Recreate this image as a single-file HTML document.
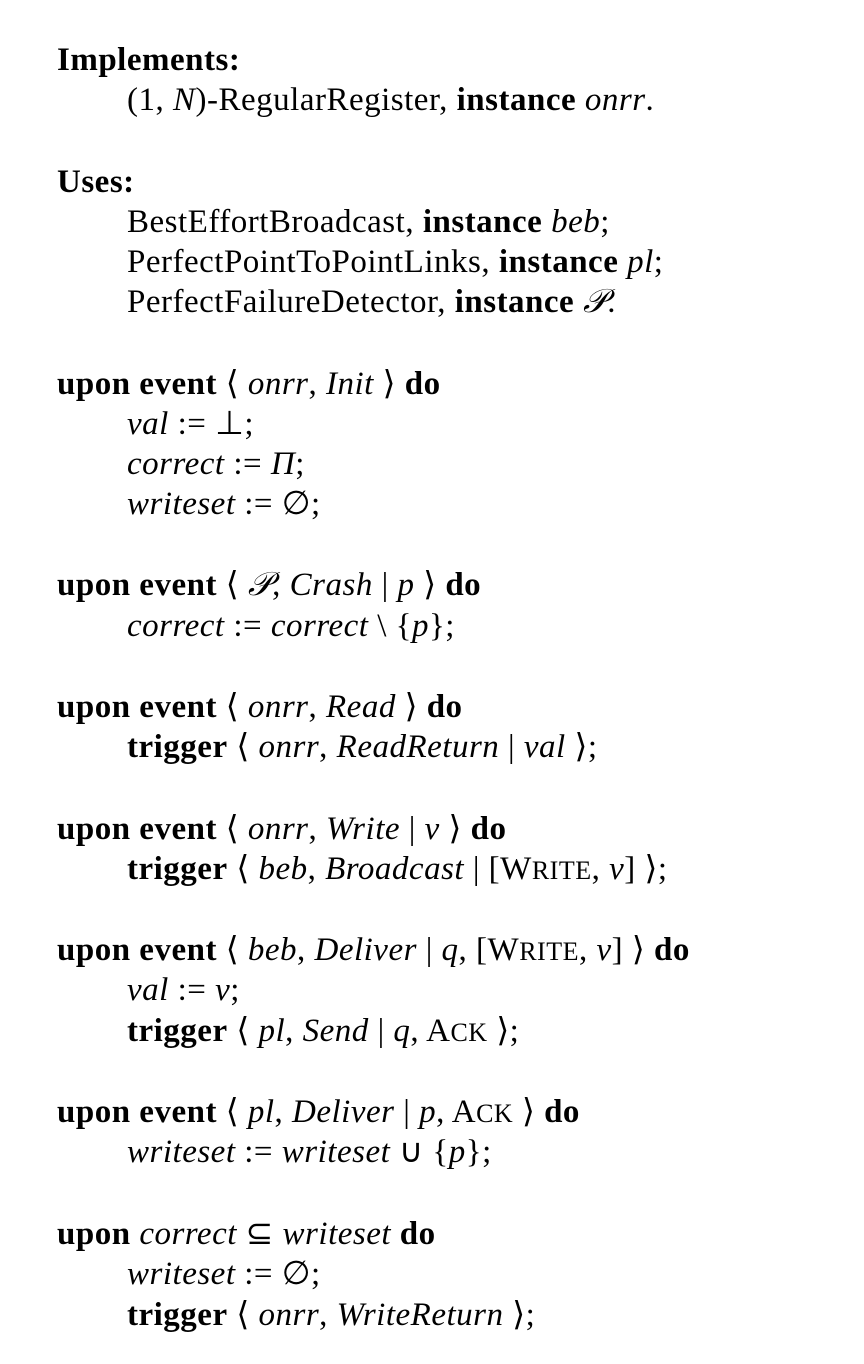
<!DOCTYPE html>
<html><head><meta charset="utf-8"><style>
body{margin:0;width:864px;height:1364px;background:#fff;position:relative;font-family:"Liberation Serif",serif;font-size:33px;color:#000;letter-spacing:0.5px}
.l{position:absolute;left:57px;line-height:40px;white-space:nowrap}
.i{left:127px}
b{font-weight:bold}
.sc{font-size:26px}
</style></head><body>
<div class="l" style="top:40px"><b>Implements:</b></div>
<div class="l i" style="top:80px">(1, <i>N</i>)-RegularRegister, <b>instance</b> <i>onrr</i>.</div>
<div class="l" style="top:162px"><b>Uses:</b></div>
<div class="l i" style="top:202px">BestEffortBroadcast, <b>instance</b> <i>beb</i>;</div>
<div class="l i" style="top:242px">PerfectPointToPointLinks, <b>instance</b> <i>pl</i>;</div>
<div class="l i" style="top:282px">PerfectFailureDetector, <b>instance</b> <i>𝒫</i>.</div>
<div class="l" style="top:364px"><b>upon event</b> ⟨ <i>onrr</i>, <i>Init</i> ⟩ <b>do</b></div>
<div class="l i" style="top:404px"><i>val</i> := ⊥;</div>
<div class="l i" style="top:444px"><i>correct</i> := <i>Π</i>;</div>
<div class="l i" style="top:484px"><i>writeset</i> := ∅;</div>
<div class="l" style="top:565px"><b>upon event</b> ⟨ <i>𝒫</i>, <i>Crash</i> | <i>p</i> ⟩ <b>do</b></div>
<div class="l i" style="top:606px"><i>correct</i> := <i>correct</i> \ {<i>p</i>};</div>
<div class="l" style="top:687px"><b>upon event</b> ⟨ <i>onrr</i>, <i>Read</i> ⟩ <b>do</b></div>
<div class="l i" style="top:727px"><b>trigger</b> ⟨ <i>onrr</i>, <i>ReadReturn</i> | <i>val</i> ⟩;</div>
<div class="l" style="top:809px"><b>upon event</b> ⟨ <i>onrr</i>, <i>Write</i> | <i>v</i> ⟩ <b>do</b></div>
<div class="l i" style="top:849px"><b>trigger</b> ⟨ <i>beb</i>, <i>Broadcast</i> | [W<span class="sc">RITE</span>, <i>v</i>] ⟩;</div>
<div class="l" style="top:930px"><b>upon event</b> ⟨ <i>beb</i>, <i>Deliver</i> | <i>q</i>, [W<span class="sc">RITE</span>, <i>v</i>] ⟩ <b>do</b></div>
<div class="l i" style="top:970px"><i>val</i> := <i>v</i>;</div>
<div class="l i" style="top:1011px"><b>trigger</b> ⟨ <i>pl</i>, <i>Send</i> | <i>q</i>, A<span class="sc">CK</span> ⟩;</div>
<div class="l" style="top:1092px"><b>upon event</b> ⟨ <i>pl</i>, <i>Deliver</i> | <i>p</i>, A<span class="sc">CK</span> ⟩ <b>do</b></div>
<div class="l i" style="top:1132px"><i>writeset</i> := <i>writeset</i> ∪ {<i>p</i>};</div>
<div class="l" style="top:1214px"><b>upon</b> <i>correct</i> ⊆ <i>writeset</i> <b>do</b></div>
<div class="l i" style="top:1254px"><i>writeset</i> := ∅;</div>
<div class="l i" style="top:1295px"><b>trigger</b> ⟨ <i>onrr</i>, <i>WriteReturn</i> ⟩;</div>
</body></html>
